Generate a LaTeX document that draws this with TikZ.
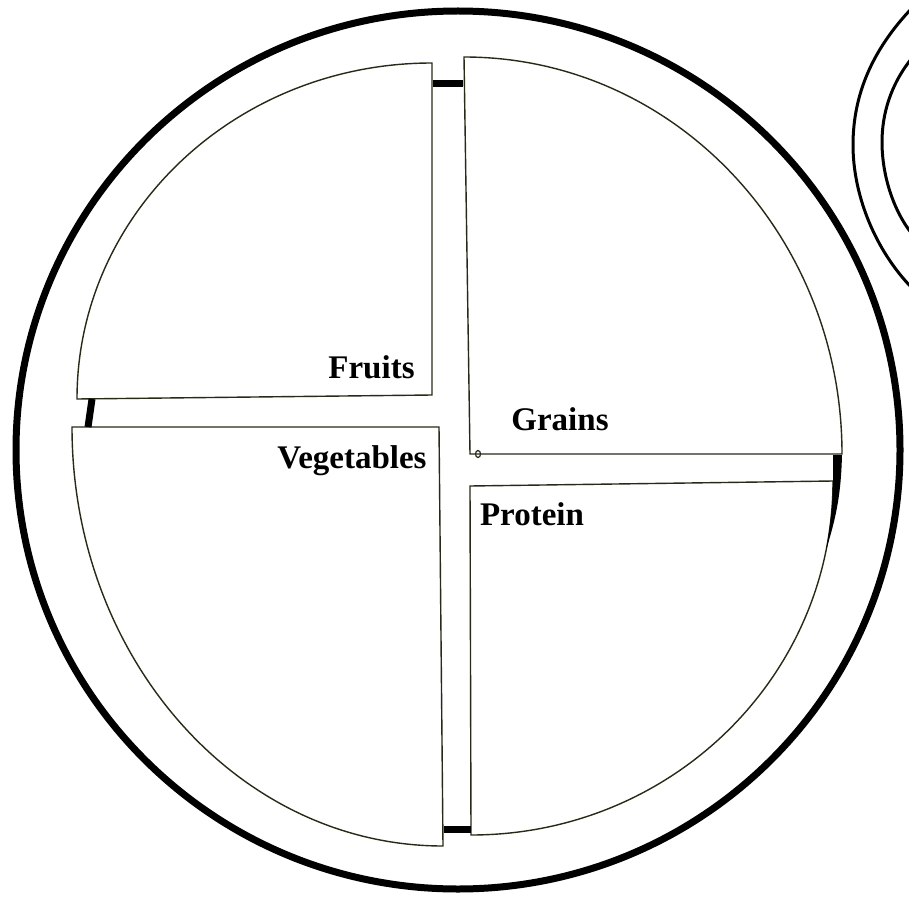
\documentclass[tikz,border=0pt]{standalone}
\usepackage{fontspec}
\setmainfont{Liberation Serif}
\begin{document}
\begin{tikzpicture}[x=1pt,y=-1pt,
  piece/.style={draw=piececol, line width=1.4pt, fill=white},
  bar/.style={draw=black, line width=7pt},
  plate/.style={draw=black, line width=7pt},
  cup/.style={draw=black, line width=3pt},
  label/.style={anchor=base, inner sep=0pt, font=\fontsize{33}{40}\selectfont\bfseries}]
\definecolor{piececol}{RGB}{38,42,22}
\useasboundingbox[fill=white] (0,0) rectangle (909,901);
% plate rim
\draw[plate] (458,450) ellipse [x radius=442, y radius=439];
% cup (partly outside the picture)
\begin{scope}
\clip (0,0) rectangle (909,901);
\draw[cup] (912,8) .. controls (872,50) and (853,95) .. (853,145)
  .. controls (853,195) and (875,250) .. (912,288);
\draw[cup] (912,58) .. controls (890,85) and (882,115) .. (882,142)
  .. controls (882,175) and (893,210) .. (912,234);
\end{scope}
% sections
\draw[piece] (432,63) -- (432,395) -- (77,399) .. controls (77,213) and (236,63) .. (432,63) -- cycle;
\draw[piece] (464,57) -- (470,454) -- (842,454) .. controls (842,235) and (674,57) .. (464,57) -- cycle;
\draw[piece] (470,486) -- (833,481) .. controls (833,677) and (671,835) .. (471,835) -- cycle;
\draw[piece] (72,427) -- (439,427) -- (443,846) .. controls (238,846) and (72,658) .. (72,427) -- cycle;
% dark bars in the gaps
\draw[bar] (433,83.5) -- (463,83.5);
\draw[bar] (92,399) -- (88,427);
\draw[bar] (444,829) -- (471,829);
\fill[black] (833,455) -- (842,455) .. controls (841,492) and (837,515) .. (826,550)
  .. controls (831,522) and (833,500) .. (833,481) -- cycle;
% centre mark
\draw[piececol, line width=1.2pt] (478,454) ellipse [x radius=2.5, y radius=3.5];
% labels
\node[label] (fruits) at (371.5,378) {Fruits};
\node[label] (grains) at (560,430) {Grains};
\node[label] (veg) at (352,468) {Vegetables};
\node[label] (protein) at (532,525) {Protein};
\end{tikzpicture}
\end{document}
